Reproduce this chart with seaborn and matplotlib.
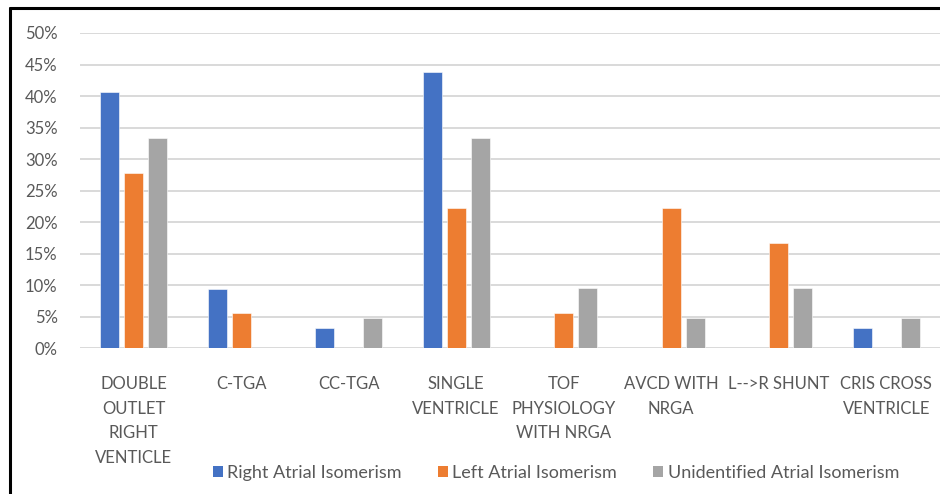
import matplotlib
matplotlib.use("Agg")
import matplotlib.pyplot as plt
from matplotlib.lines import Line2D
from matplotlib.patches import Patch
from matplotlib.ticker import PercentFormatter, MultipleLocator
import seaborn as sns
import pandas as pd

categories = [
    "DOUBLE\nOUTLET\nRIGHT\nVENTICLE",
    "C-TGA",
    "CC-TGA",
    "SINGLE\nVENTRICLE",
    "TOF\nPHYSIOLOGY\nWITH NRGA",
    "AVCD WITH\nNRGA",
    "L-->R SHUNT",
    "CRIS CROSS\nVENTRICLE",
]
series_names = [
    "Right Atrial Isomerism",
    "Left Atrial Isomerism",
    "Unidentified Atrial Isomerism",
]
right_atrial = [40.6, 9.4, 3.1, 43.8, 0.0, 0.0, 0.0, 3.1]
left_atrial = [27.8, 5.6, 0.0, 22.2, 5.6, 22.2, 16.7, 0.0]
unidentified = [33.3, 0.0, 4.8, 33.3, 9.5, 4.8, 9.5, 4.8]
colors = ["#4472C4", "#ED7D31", "#A5A5A5"]

rows = []
for name, vals in zip(series_names, [right_atrial, left_atrial, unidentified]):
    for cat, v in zip(categories, vals):
        rows.append({"category": cat, "series": name, "value": v})
df = pd.DataFrame(rows)

sns.set_theme(style="white")
plt.rcParams["font.family"] = ["Lato", "DejaVu Sans"]
text_color = "#595959"

fig = plt.figure(figsize=(9.4, 4.94), dpi=100)
ax = fig.add_axes([0.085, 0.2955, 0.915, 0.6377])

sns.barplot(
    data=df, x="category", y="value", hue="series",
    order=categories, hue_order=series_names, palette=colors,
    width=0.67, gap=0.2, saturation=1, legend=False, ax=ax,
    edgecolor="white", linewidth=0.4,
)

ax.set_ylim(0, 50)
ax.set_xlim(-0.5, len(categories) - 0.5)
ax.yaxis.set_major_locator(MultipleLocator(5))
ax.yaxis.set_major_formatter(PercentFormatter(decimals=0))
ax.grid(axis="y", color="#D9D9D9", linewidth=1.4)
ax.set_axisbelow(True)
for side in ["top", "right", "left", "bottom"]:
    ax.spines[side].set_visible(False)
ax.set_xlabel("")
ax.set_ylabel("")
ax.tick_params(axis="y", length=0, pad=16, labelsize=12, labelcolor=text_color)
ax.tick_params(axis="x", length=0, pad=20, labelsize=12, labelcolor=text_color)
for lbl in ax.get_xticklabels():
    lbl.set_linespacing(1.68)
    lbl.set_verticalalignment("top")

handles = [Patch(facecolor=c, edgecolor="none") for c in colors]
fig.legend(
    handles, series_names, loc="center", bbox_to_anchor=(0.5915, 0.042),
    ncol=3, frameon=False, fontsize=13, labelcolor=text_color,
    handlelength=0.55, handleheight=0.55, handletextpad=0.25, columnspacing=2.0,
)

# outer frame: top and left edges
fig.add_artist(Line2D([0.0107, 1.0], [0.984, 0.984], color="black", lw=2.2,
                      transform=fig.transFigure))
fig.add_artist(Line2D([0.0107, 0.0107], [0.0, 0.984], color="black", lw=2.2,
                      transform=fig.transFigure))

fig.savefig("out.png", dpi=100, facecolor="white")
